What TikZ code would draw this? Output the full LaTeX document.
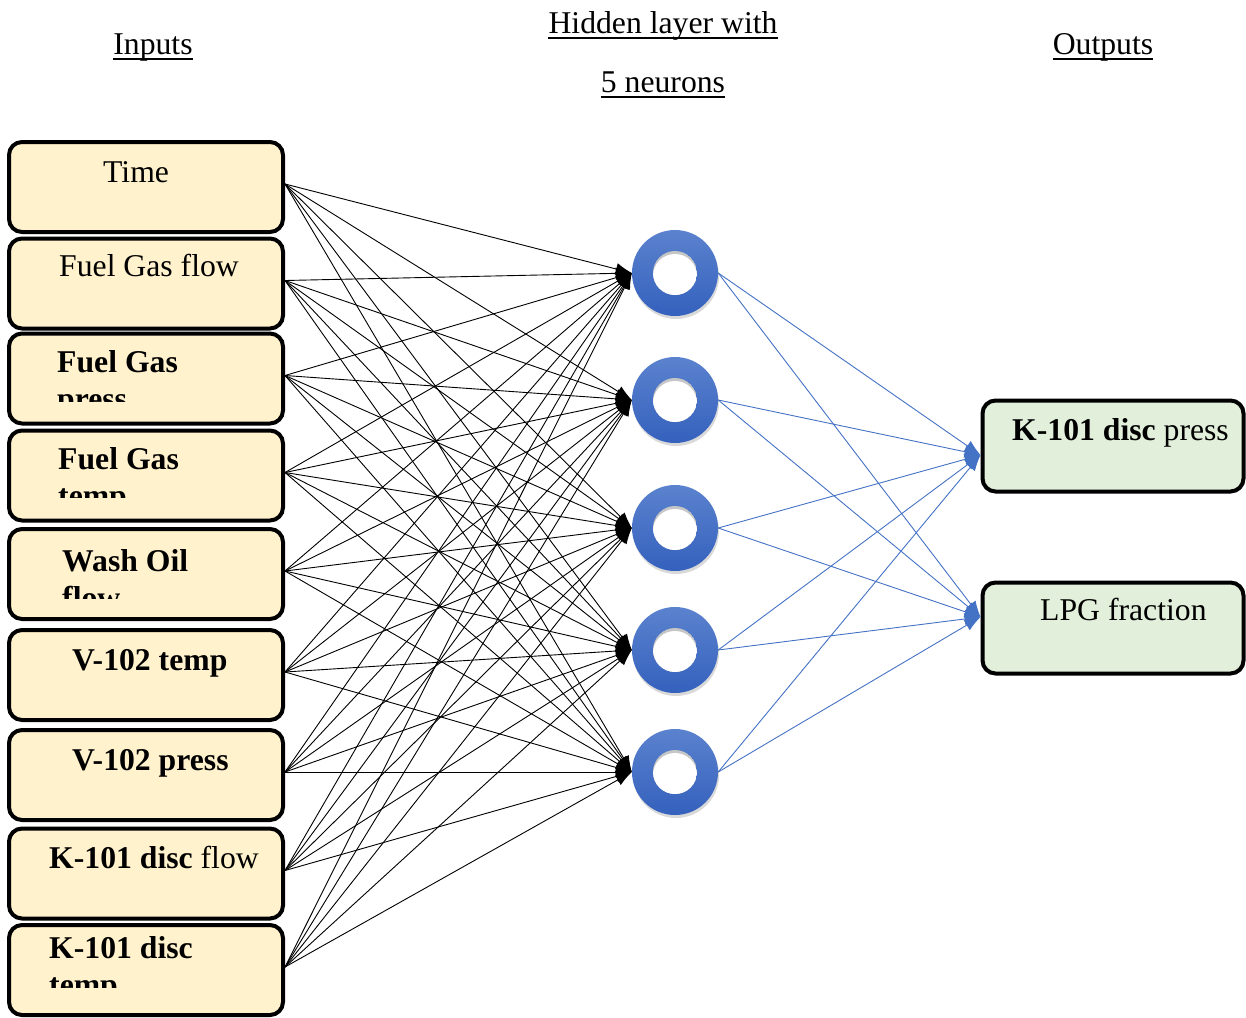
\documentclass[tikz,border=0pt]{standalone}
\usepackage{fontspec}
\setmainfont{Liberation Serif}
\usetikzlibrary{arrows.meta,shadows,calc}
\definecolor{cIn}{HTML}{FFF2CC}
\definecolor{cOut}{HTML}{E2EFDA}
\definecolor{cLink}{HTML}{4472C4}
\definecolor{cRingTop}{HTML}{5B82CE}
\definecolor{cRingBot}{HTML}{3461BD}

\begin{document}
\begin{tikzpicture}[x=1pt,y=-1pt,
  every node/.style={font=\fontsize{31.7}{38}\selectfont, inner sep=0pt},
  box/.style={draw=black, line width=4pt, rounded corners=13pt},
  inbox/.style={box, fill=cIn, minimum width=274pt, minimum height=90pt},
  outbox/.style={box, fill=cOut, minimum width=261pt, minimum height=91pt},
  label/.style={anchor=base west},
  title/.style={anchor=base},
  neuron/.style={circle, minimum size=86pt, top color=cRingTop, bottom color=cRingBot,
    drop shadow={opacity=0.3, shadow xshift=1pt, shadow yshift=-3pt}},
  inlink/.style={black, line width=0.9pt, -{Latex[length=16pt,width=12pt]}},
  outlink/.style={cLink, line width=0.9pt, -{Latex[length=16pt,width=12pt]}},
  uline/.style={line width=1.5pt}
]
\useasboundingbox (0,0) rectangle (1246,1017);

% column titles
\node[title] (tin) at (153,54) {Inputs};
\node[title] (thid1) at (663,33) {Hidden layer with};
\node[title] (thid2) at (663,92) {5 neurons};
\node[title] (tout) at (1103,54) {Outputs};
\foreach \t in {tin,thid1,thid2,tout}
  \draw[uline] ([yshift=-5pt]\t.base west) -- ([yshift=-5pt]\t.base east);

% input boxes
\node[inbox] (i1) at (146,187) {};
\node[inbox] (i2) at (146,283.5) {};
\node[inbox] (i3) at (146,378.5) {};
\node[inbox] (i4) at (146,475.5) {};
\node[inbox] (i5) at (146,574) {};
\node[inbox] (i6) at (146,675) {};
\node[inbox] (i7) at (146,775) {};
\node[inbox] (i8) at (146,873.5) {};
\node[inbox] (i9) at (146,970) {};

\node[label] (l1) at (103,182) {Time};
\node[label] (l2) at (59,276) {Fuel Gas flow};
\node[label] (l3) at (57,372) {\bfseries Fuel Gas};
\node[label] (l4) at (58,469) {\bfseries Fuel Gas};
\node[label] (l5) at (62,571) {\bfseries Wash Oil};
\node[label] (l6) at (72,670) {\bfseries V-102 temp};
\node[label] (l7) at (72,770) {\bfseries V-102 press};
\node[label] (l8) at (49,868) {\bfseries K-101 disc\mdseries{} flow};
\node[label] (l9) at (49,958) {\bfseries K-101 disc};

% second lines cut off by the text frame
\begin{scope}
  \clip (12,378) rectangle (280,401);
  \node[label] (l3b) at (57,409) {\bfseries press};
\end{scope}
\begin{scope}
  \clip (12,475) rectangle (280,497);
  \node[label] (l4b) at (58,506) {\bfseries temp};
\end{scope}
\begin{scope}
  \clip (12,577) rectangle (280,598);
  \node[label] (l5b) at (62,608) {\bfseries flow};
\end{scope}
\begin{scope}
  \clip (12,964) rectangle (280,987);
  \node[label] (l9b) at (49,995) {\bfseries temp};
\end{scope}

% hidden neurons
\foreach \j/\y in {1/273,2/400,3/528,4/650,5/772}{
  \node[neuron] (h\j) at (675,\y) {};
  \begin{scope}
    \clip (h\j.center) circle (22pt);
    \fill[gray!45] (h\j.center) circle (22pt);
    \fill[white] ([yshift=-3pt]h\j.center) circle (22pt);
  \end{scope}
}

% output boxes
\node[outbox] (o1) at (1113,446) {};
\node[outbox] (o2) at (1113,628) {};
\node[label] (m1) at (1012,440) {\bfseries K-101 disc\mdseries{} press};
\node[label] (m2) at (1040,620) {LPG fraction};

% input -> hidden connections
\foreach \i in {1,...,9}
  \foreach \j in {1,...,5}
    \draw[inlink] ([yshift=3pt]i\i.east) -- (h\j.west);

% hidden -> output connections
\foreach \j in {1,...,5}{
  \draw[outlink] (h\j.east) -- ([yshift=-9pt]o1.west);
  \draw[outlink] (h\j.east) -- ([yshift=11pt]o2.west);
}
\end{tikzpicture}
\end{document}
